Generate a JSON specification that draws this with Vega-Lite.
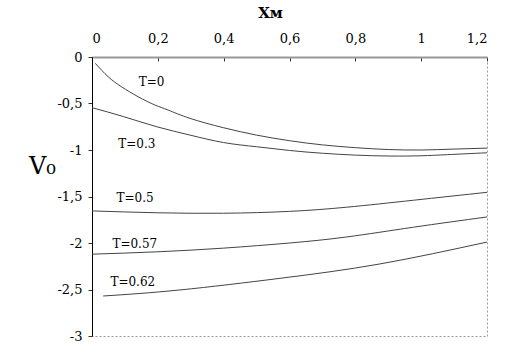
{
  "$schema": "https://vega.github.io/schema/vega-lite/v6.json",
  "autosize": "none",
  "padding": {"left": 92, "top": 57, "right": 23, "bottom": 27},
  "width": 395,
  "height": 279,
  "background": "white",
  "config": {
    "font": "DejaVu Serif",
    "view": {"stroke": "#999999", "strokeWidth": 1, "strokeDash": [2, 2]},
    "axis": {"grid": false, "labelFont": "DejaVu Serif", "labelFontSize": 13, "labelColor": "#000000", "titleFont": "DejaVu Serif", "titleColor": "#000000"}
  },
  "datasets": {
    "curves": [
      {"T": "0", "x": 0.01, "v": -0.068},
      {"T": "0", "x": 0.049, "v": -0.212},
      {"T": "0", "x": 0.089, "v": -0.319},
      {"T": "0", "x": 0.14, "v": -0.427},
      {"T": "0", "x": 0.191, "v": -0.516},
      {"T": "0", "x": 0.231, "v": -0.57},
      {"T": "0", "x": 0.298, "v": -0.66},
      {"T": "0", "x": 0.399, "v": -0.76},
      {"T": "0", "x": 0.5, "v": -0.84},
      {"T": "0", "x": 0.6, "v": -0.9},
      {"T": "0", "x": 0.7, "v": -0.945},
      {"T": "0", "x": 0.8, "v": -0.975},
      {"T": "0", "x": 0.9, "v": -0.995},
      {"T": "0", "x": 1.0, "v": -1.0},
      {"T": "0", "x": 1.1, "v": -0.99},
      {"T": "0", "x": 1.2, "v": -0.98},
      {"T": "0.3", "x": 0.0, "v": -0.545},
      {"T": "0.3", "x": 0.095, "v": -0.64},
      {"T": "0.3", "x": 0.197, "v": -0.75},
      {"T": "0.3", "x": 0.298, "v": -0.84},
      {"T": "0.3", "x": 0.4, "v": -0.92},
      {"T": "0.3", "x": 0.5, "v": -0.965},
      {"T": "0.3", "x": 0.6, "v": -1.005},
      {"T": "0.3", "x": 0.7, "v": -1.035},
      {"T": "0.3", "x": 0.8, "v": -1.055},
      {"T": "0.3", "x": 0.906, "v": -1.065},
      {"T": "0.3", "x": 1.0, "v": -1.062},
      {"T": "0.3", "x": 1.08, "v": -1.05},
      {"T": "0.3", "x": 1.2, "v": -1.03},
      {"T": "0.5", "x": 0.0, "v": -1.655},
      {"T": "0.5", "x": 0.197, "v": -1.675},
      {"T": "0.5", "x": 0.4, "v": -1.68},
      {"T": "0.5", "x": 0.6, "v": -1.66},
      {"T": "0.5", "x": 0.774, "v": -1.615},
      {"T": "0.5", "x": 0.977, "v": -1.54},
      {"T": "0.5", "x": 1.2, "v": -1.455},
      {"T": "0.57", "x": 0.0, "v": -2.12},
      {"T": "0.57", "x": 0.197, "v": -2.095},
      {"T": "0.57", "x": 0.4, "v": -2.055},
      {"T": "0.57", "x": 0.6, "v": -2.0},
      {"T": "0.57", "x": 0.774, "v": -1.935},
      {"T": "0.57", "x": 0.977, "v": -1.83},
      {"T": "0.57", "x": 1.2, "v": -1.72},
      {"T": "0.62", "x": 0.034, "v": -2.57},
      {"T": "0.62", "x": 0.267, "v": -2.505},
      {"T": "0.62", "x": 0.571, "v": -2.38},
      {"T": "0.62", "x": 0.875, "v": -2.225},
      {"T": "0.62", "x": 1.2, "v": -1.99}
    ],
    "labels": [
      {"text": "T=0", "x": 0.181, "v": -0.266},
      {"text": "T=0.3", "x": 0.136, "v": -0.94},
      {"text": "T=0.5", "x": 0.131, "v": -1.52},
      {"text": "T=0.57", "x": 0.13, "v": -2.01},
      {"text": "T=0.62", "x": 0.124, "v": -2.42}
    ]
  },
  "layer": [
    {
      "data": {"name": "curves"},
      "mark": {"type": "line", "interpolate": "natural", "color": "#444444", "strokeWidth": 1},
      "encoding": {
        "x": {
          "field": "x", "type": "quantitative",
          "scale": {"domain": [0, 1.2], "nice": false, "zero": false},
          "axis": {
            "orient": "top", "values": [0, 0.2, 0.4, 0.6, 0.8, 1, 1.2],
            "format": "~g",
            "labelExpr": "replace(datum.label, '.', ',')",
            "domainColor": "#999999", "domainWidth": 2,
            "tickColor": "#333333", "tickSize": -4, "labelPadding": 16,
            "title": "Xм", "titleFontSize": 15, "titleFontWeight": "bold",
            "titleX": 178, "titleY": -45, "titleBaseline": "middle", "titleAlign": "center"
          }
        },
        "y": {
          "field": "v", "type": "quantitative",
          "scale": {"domain": [-3, 0], "nice": false, "zero": false},
          "axis": {
            "values": [-3, -2.5, -2, -1.5, -1, -0.5, 0],
            "format": "~g",
            "labelExpr": "replace(replace(datum.label, '.', ','), '\u2212', '-')",
            "domainColor": "#000000", "domainWidth": 1,
            "tickColor": "#333333", "tickSize": 4, "labelPadding": 6,
            "title": "V₀", "titleFontSize": 24, "titleFontWeight": "normal", "titleAngle": 0,
            "titleX": -50, "titleY": 109, "titleBaseline": "middle", "titleAlign": "center"
          }
        },
        "detail": {"field": "T", "type": "nominal"}
      }
    },
    {
      "data": {"name": "labels"},
      "mark": {"type": "text", "font": "DejaVu Serif", "fontSize": 12, "color": "#000000", "align": "center", "baseline": "middle"},
      "encoding": {
        "x": {"field": "x", "type": "quantitative"},
        "y": {"field": "v", "type": "quantitative"},
        "text": {"field": "text", "type": "nominal"}
      }
    }
  ]
}
